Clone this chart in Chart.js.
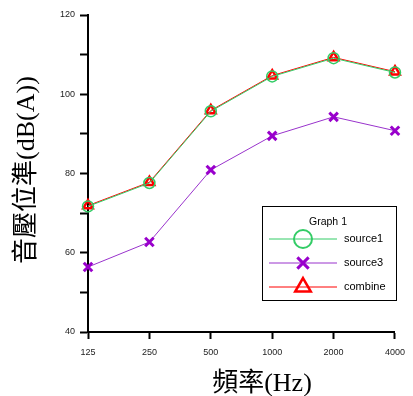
<!DOCTYPE html>
<html lang="zh-Hant">
<head>
  <meta charset="UTF-8">
  <title>音壓位準</title>
  <script src="https://cdn.jsdelivr.net/npm/chart.js"></script>
  <style>
    body { margin: 0; background: #fff; }
  </style>
</head>
<body>
  <canvas id="levelChart" width="413" height="396"></canvas>

  <script>
// frequency bands (Hz)
const freqLabels = ['125', '250', '500', '1000', '2000', '4000'];

// sound level values, dB(A)
const source1 = [71.7, 77.6, 95.7, 104.5, 109.1, 105.5];
const source3 = [56.4, 62.7, 80.9, 89.5, 94.3, 90.8];
const combine = [71.9, 77.8, 95.9, 104.7, 109.3, 105.7];

const yTitle = '音壓位準(dB(A))';
const xTitle = '頻率(Hz)';
const legendTitle = 'Graph 1';

const titleFont = '26px "Liberation Serif", "Noto Sans CJK TC", serif';

// draws the axis titles and the boxed legend
const extras = {
  id: 'extras',
  afterDraw(chart) {
    const ctx = chart.ctx;
    ctx.save();
    ctx.fillStyle = '#000';
    ctx.font = titleFont;
    ctx.textAlign = 'center';
    ctx.textBaseline = 'middle';
    ctx.fillText(xTitle, 262, 384);
    ctx.translate(27, 170);
    ctx.rotate(-Math.PI / 2);
    ctx.fillText(yTitle, 0, 0);
    ctx.restore();

    // legend box
    ctx.save();
    ctx.strokeStyle = '#000';
    ctx.lineWidth = 1;
    ctx.strokeRect(262.5, 206.5, 134, 94);
    ctx.fillStyle = '#000';
    ctx.font = '10.5px "Liberation Sans", Arial, sans-serif';
    ctx.textAlign = 'center';
    ctx.textBaseline = 'middle';
    ctx.fillText(legendTitle, 328, 222);
    ctx.textAlign = 'left';
    ctx.font = '11px "Liberation Sans", Arial, sans-serif';
    const rows = [239, 263, 287];
    const sizes = [9, 8, 9];
    const widths = [2, 3, 2.5];
    chart.data.datasets.forEach((ds, i) => {
      const y = rows[i];
      ctx.strokeStyle = ds.borderColor;
      ctx.lineWidth = 1;
      ctx.beginPath();
      ctx.moveTo(269, y);
      ctx.lineTo(337, y);
      ctx.stroke();
      ctx.strokeStyle = ds.pointBorderColor;
      ctx.fillStyle = 'rgba(0,0,0,0)';
      ctx.lineWidth = widths[i];
      Chart.helpers.drawPoint(ctx, {
        pointStyle: ds.pointStyle,
        radius: sizes[i],
        rotation: 0,
        borderWidth: widths[i]
      }, 303, y);
      ctx.fillStyle = '#000';
      ctx.fillText(ds.label, 344, y);
    });
    ctx.restore();
  }
};

const ctx = document.getElementById('levelChart').getContext('2d');
new Chart(ctx, {
  type: 'line',
  data: {
    labels: freqLabels,
    datasets: [
      {
        label: 'source1',
        data: source1,
        borderColor: '#33cc66',
        borderWidth: 1,
        pointStyle: 'circle',
        pointRadius: 5.5,
        pointBorderColor: '#33cc66',
        pointBackgroundColor: 'rgba(0,0,0,0)',
        pointBorderWidth: 1.5,
        clip: false
      },
      {
        label: 'source3',
        data: source3,
        borderColor: '#9933cc',
        borderWidth: 1,
        pointStyle: 'crossRot',
        pointRadius: 6,
        pointBorderColor: '#9900cc',
        pointBackgroundColor: 'rgba(0,0,0,0)',
        pointBorderWidth: 3,
        clip: false
      },
      {
        label: 'combine',
        data: combine,
        borderColor: '#ff0000',
        borderWidth: 1,
        pointStyle: 'triangle',
        pointRadius: 5.5,
        pointBorderColor: '#ff0000',
        pointBackgroundColor: 'rgba(0,0,0,0)',
        pointBorderWidth: 2.5,
        clip: false
      }
    ]
  },
  options: {
    responsive: false,
    animation: false,
    layout: { padding: { left: 0, top: 15, right: 9, bottom: 0 } },
    plugins: {
      legend: { display: false },
      tooltip: { enabled: false }
    },
    scales: {
      x: {
        offset: false,
        afterFit(scale) { scale.height = 64; },
        border: { display: true, color: '#000', width: 2 },
        grid: {
          drawOnChartArea: false,
          drawTicks: true,
          tickLength: 7,
          tickColor: '#000',
          tickWidth: 2
        },
        ticks: {
          color: '#222',
          maxRotation: 0,
          padding: 8,
          font: { family: '"Liberation Sans", Arial, sans-serif', size: 9 }
        }
      },
      y: {
        min: 40,
        max: 120,
        afterFit(scale) { scale.width = 88; },
        border: { display: true, color: '#000', width: 2 },
        grid: {
          drawOnChartArea: false,
          drawTicks: true,
          tickLength: 8,
          tickColor: '#000',
          tickWidth: 2
        },
        ticks: {
          stepSize: 10,
          color: '#222',
          padding: 5,
          font: { family: '"Liberation Sans", Arial, sans-serif', size: 9 },
          callback: v => (v % 20 === 0 ? v : '')
        }
      }
    }
  },
  plugins: [extras]
});
  </script>
</body>
</html>
